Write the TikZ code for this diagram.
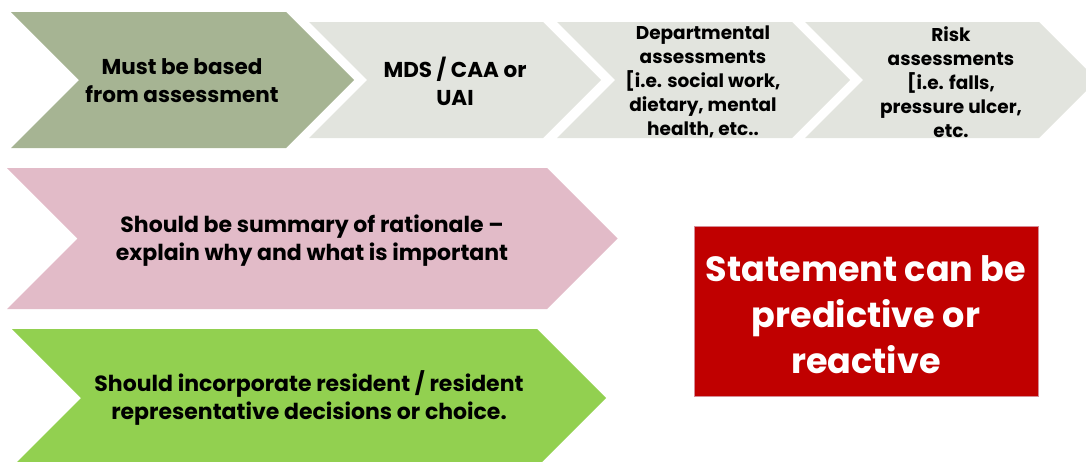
\documentclass[tikz,border=0pt]{standalone}
\usepackage{fontspec}
\setmainfont{Poppins}
\usepackage{xcolor}
\definecolor{sage}{RGB}{166,180,147}
\definecolor{pale}{RGB}{226,228,222}
\definecolor{rose}{RGB}{226,187,200}
\definecolor{lime}{RGB}{146,208,80}
\definecolor{alarm}{RGB}{192,0,0}
\definecolor{alarmedge}{RGB}{214,140,150}

\begin{document}
\begin{tikzpicture}[
  x=1pt, y=-1pt,
  lbl/.style={align=center, inner sep=0pt, font=\bfseries\fontsize{21.5}{28}\selectfont},
  lblsmall/.style={align=center, inner sep=0pt, font=\bfseries\fontsize{18.5}{24}\selectfont},
  lblwide/.style={align=center, inner sep=0pt, font=\bfseries\fontsize{22}{28}\selectfont},
  stmt/.style={draw=alarmedge, line width=0.8pt, fill=alarm, text=white, align=center,
    inner sep=0pt, font=\bfseries\fontsize{35}{46}\selectfont},
]
\clip (0,0) rectangle (1086,461);
% chevron: left x, top y, body right x, bottom y, fill
\def\chev#1#2#3#4#5{%
  \fill[#5] (#1,#2) -- (#3,#2) -- ({#3+(#4-#2)/2},{(#2+#4)/2}) -- (#3,#4)
    -- (#1,#4) -- ({#1+(#4-#2)/2},{(#2+#4)/2}) -- cycle;}
% top row of steps
\chev{11}{12}{286}{148}{sage}
\chev{309}{22}{543}{138}{pale}
\chev{557}{22}{792}{138}{pale}
\chev{805}{22}{1039}{138}{pale}
\node[lbl] (based) at (182,81) {Must be based\\from assessment};
\node[lbl] (mds) at (455,81) {MDS / CAA or\\UAI};
\node[lblsmall] (dept) at (703,82) {Departmental\\assessments\\{[}i.e. social work,\\dietary, mental\\health, etc..};
\node[lblsmall] (risk) at (951,82) {Risk\\assessments\\{[}i.e. falls,\\pressure ulcer,\\etc.};
% lower two arrows
\chev{7}{168}{547}{309}{rose}
\chev{12}{329}{537}{467}{lime}
\node[lblwide] (summary) at (312,241) {Should be summary of rationale –\\explain why and what is important};
\node[lblwide] (choice) at (309,398) {Should incorporate resident / resident\\representative decisions or choice.};
% statement box
\node[stmt, minimum width=344pt, minimum height=170pt] (statement) at (866,311)
  {};
\node[stmt, draw=none, fill=none] (stmttext) at (866,315)
  {Statement can be\\predictive or\\reactive};
\end{tikzpicture}
\end{document}
